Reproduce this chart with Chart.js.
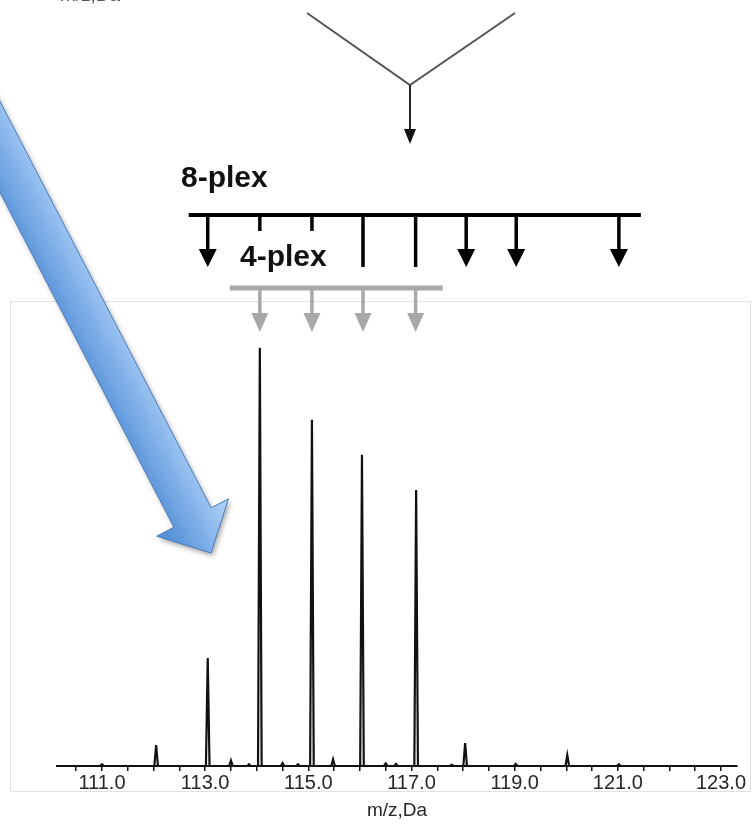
<!DOCTYPE html>
<html>
<head>
<meta charset="utf-8">
<script src="https://cdn.jsdelivr.net/npm/chart.js@4.4.1/dist/chart.umd.min.js"></script>
<style>
  html, body { margin: 0; padding: 0; background: #fff; }
  #wrap { position: relative; width: 754px; height: 826px; }
</style>
</head>
<body>
<div id="wrap"><canvas id="chart" width="754" height="826"></canvas></div>
<script>
// reporter ion peaks: m/z and relative intensity (%)
var peakMz = [112.05, 113.05, 114.06, 115.07, 116.04, 117.09, 118.04, 120.02];
var peakIntensity = [5.0, 25.8, 100, 82.8, 74.4, 66.0, 5.5, 2.6];

// small bumps along the baseline
var noiseMz = [111.0, 113.5, 113.85, 114.5, 114.8, 115.48, 116.5, 116.7, 117.78, 119.02, 121.02];
var noiseIntensity = [0.4, 1.3, 0.4, 0.7, 0.4, 1.6, 0.6, 0.5, 0.3, 0.5, 0.4];

// 8-plex and 4-plex reporter channels
var plex8Mz = [113.05, 114.06, 115.07, 116.06, 117.08, 118.06, 119.03, 121.02];
var plex8Mark = ['arrow', 'tick', 'tick', 'line', 'line', 'arrow', 'arrow', 'arrow'];
var plex4Mz = [114.06, 115.07, 116.06, 117.08];

var tickLabels = ['111.0', '113.0', '115.0', '117.0', '119.0', '121.0', '123.0'];

var xMin = 110.128;
var xMax = 123.31;

function spectrumPoints() {
  var marks = [];
  peakMz.forEach(function (mz, i) {
    marks.push({ mz: mz, h: peakIntensity[i], w: 0.035 });
  });
  noiseMz.forEach(function (mz, i) {
    marks.push({ mz: mz, h: noiseIntensity[i], w: 0.035 });
  });
  marks.sort(function (a, b) { return a.mz - b.mz; });

  var pts = [{ x: xMin, y: 0 }];
  marks.forEach(function (m) {
    pts.push({ x: m.mz - m.w, y: 0 });
    pts.push({ x: m.mz, y: m.h });
    pts.push({ x: m.mz + m.w, y: 0 });
  });
  pts.push({ x: xMax, y: 0 });
  return pts;
}

// light frame round the spectrum panel
var framePlugin = {
  id: 'frame',
  beforeDraw: function (chart) {
    var ctx = chart.ctx;
    ctx.save();
    ctx.fillStyle = '#fff';
    ctx.fillRect(0, 0, chart.width, chart.height);
    ctx.strokeStyle = '#e2e2e2';
    ctx.lineWidth = 1;
    ctx.strokeRect(10.5, 301.5, 740, 490);
    ctx.restore();
  }
};

function drawHead(ctx, px, y, half, len) {
  ctx.beginPath();
  ctx.moveTo(px - half, y);
  ctx.lineTo(px + half, y);
  ctx.lineTo(px, y + len);
  ctx.closePath();
  ctx.fill();
}

var schemePlugin = {
  id: 'scheme',
  afterDraw: function (chart) {
    var ctx = chart.ctx;
    var xs = chart.scales.x;
    ctx.save();

    // bit of the axis title from the panel above
    ctx.fillStyle = '#555';
    ctx.font = '19px "Liberation Sans", Arial, sans-serif';
    ctx.textAlign = 'center';
    ctx.textBaseline = 'alphabetic';
    ctx.fillText('m/z,Da', 90, 1);

    // merging lines with arrow down
    ctx.strokeStyle = '#555';
    ctx.lineWidth = 2;
    ctx.beginPath();
    ctx.moveTo(307, 13);
    ctx.lineTo(410, 85);
    ctx.lineTo(515, 13);
    ctx.stroke();
    ctx.strokeStyle = '#222';
    ctx.beginPath();
    ctx.moveTo(410, 85);
    ctx.lineTo(410, 130);
    ctx.stroke();
    ctx.fillStyle = '#111';
    drawHead(ctx, 410, 129, 6, 15);

    // 8-plex
    ctx.fillStyle = '#111';
    ctx.font = 'bold 30px "Liberation Sans", Arial, sans-serif';
    ctx.textAlign = 'left';
    ctx.fillText('8-plex', 181, 187);

    var p8 = plex8Mz.map(function (v) { return xs.getPixelForValue(v); });
    ctx.strokeStyle = '#000';
    ctx.fillStyle = '#000';
    ctx.lineWidth = 4;
    ctx.lineCap = 'butt';
    ctx.beginPath();
    ctx.moveTo(p8[0] - 19, 215);
    ctx.lineTo(p8[p8.length - 1] + 22, 215);
    ctx.stroke();
    ctx.lineWidth = 3.5;
    p8.forEach(function (px, i) {
      var kind = plex8Mark[i];
      var end = kind === 'tick' ? 231 : (kind === 'line' ? 267 : 251);
      ctx.beginPath();
      ctx.moveTo(px, 215);
      ctx.lineTo(px, end);
      ctx.stroke();
      if (kind === 'arrow') drawHead(ctx, px, 249, 9, 18);
    });

    // 4-plex
    ctx.fillStyle = '#111';
    ctx.fillText('4-plex', 240, 266);

    var p4 = plex4Mz.map(function (v) { return xs.getPixelForValue(v); });
    ctx.strokeStyle = '#a8a8a8';
    ctx.fillStyle = '#a8a8a8';
    ctx.lineWidth = 5;
    ctx.beginPath();
    ctx.moveTo(p4[0] - 30, 288);
    ctx.lineTo(p4[p4.length - 1] + 27, 288);
    ctx.stroke();
    ctx.lineWidth = 3.5;
    p4.forEach(function (px) {
      ctx.beginPath();
      ctx.moveTo(px, 288);
      ctx.lineTo(px, 315);
      ctx.stroke();
      drawHead(ctx, px, 313, 8.5, 19);
    });

    // big blue arrow
    var tip = { x: 211, y: 553 };
    var u = { x: 0.461, y: 0.887 };
    var n = { x: 0.887, y: -0.461 };
    var base = { x: tip.x - 40 * u.x, y: tip.y - 40 * u.y };
    var tail = { x: base.x - 700 * u.x, y: base.y - 700 * u.y };
    function at(p, k) { return [p.x + n.x * k, p.y + n.y * k]; }
    var poly = [at(tail, 21), at(base, 21), at(base, 40.5), [tip.x, tip.y],
      at(base, -40.5), at(base, -21), at(tail, -21)];

    var g0 = at(base, -30), g1 = at(base, 30);
    var grad = ctx.createLinearGradient(g0[0], g0[1], g1[0], g1[1]);
    grad.addColorStop(0, '#5590d8');
    grad.addColorStop(1, '#a6cbf5');

    ctx.beginPath();
    poly.forEach(function (p, i) {
      if (i === 0) ctx.moveTo(p[0], p[1]); else ctx.lineTo(p[0], p[1]);
    });
    ctx.closePath();
    ctx.shadowColor = 'rgba(0,0,0,0.35)';
    ctx.shadowBlur = 5;
    ctx.shadowOffsetX = 2;
    ctx.shadowOffsetY = 3;
    ctx.fillStyle = grad;
    ctx.fill();
    ctx.shadowColor = 'transparent';
    ctx.strokeStyle = '#4a7cbf';
    ctx.lineWidth = 1;
    ctx.lineJoin = 'miter';
    ctx.stroke();

    ctx.restore();
  }
};

var chart = new Chart('chart', {
  type: 'line',
  data: {
    datasets: [
      {
        data: spectrumPoints(),
        borderColor: '#111',
        borderWidth: 2.2,
        pointRadius: 0,
        tension: 0,
        fill: false,
        clip: false
      }
    ]
  },
  options: {
    responsive: false,
    animation: false,
    events: [],
    layout: {
      padding: { left: 57, right: 17, top: 306, bottom: 0 }
    },
    plugins: {
      legend: { display: false },
      tooltip: { enabled: false }
    },
    scales: {
      x: {
        type: 'linear',
        min: xMin,
        max: xMax,
        afterFit: function (scale) {
          scale.paddingLeft = 0;
          scale.paddingRight = 0;
          scale.height = 60;
        },
        border: { display: true, color: '#111', width: 2 },
        grid: {
          drawOnChartArea: false,
          drawTicks: true,
          tickLength: 5,
          color: '#111',
          lineWidth: 1.5
        },
        ticks: {
          stepSize: 0.5,
          autoSkip: false,
          maxRotation: 0,
          includeBounds: false,
          padding: 0,
          color: '#262626',
          font: { family: '"Liberation Sans", Arial, sans-serif', size: 20 },
          callback: function (value) {
            var s = Number(value).toFixed(1);
            return tickLabels.indexOf(s) >= 0 ? s : '';
          }
        },
        title: {
          display: true,
          text: 'm/z,Da',
          color: '#262626',
          font: { family: '"Liberation Sans", Arial, sans-serif', size: 19 },
          padding: { top: 0, bottom: 4 }
        }
      },
      y: {
        display: false,
        min: 0,
        max: 110
      }
    }
  },
  plugins: [framePlugin, schemePlugin]
});
</script>
</body>
</html>
